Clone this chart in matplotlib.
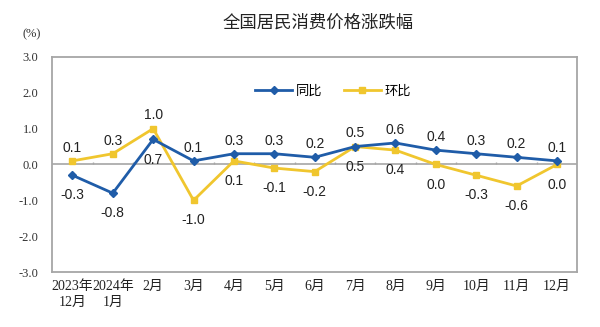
import matplotlib
matplotlib.use('Agg')
import matplotlib.pyplot as plt
import numpy as np

plt.rcParams['font.family'] = ['Liberation Sans', 'Noto Sans CJK SC']

# data
months = ['2023年\n12月', '2024年\n1月', '2月', '3月', '4月', '5月', '6月',
          '7月', '8月', '9月', '10月', '11月', '12月']
yoy = [-0.3, -0.8, 0.7, 0.1, 0.3, 0.3, 0.2, 0.5, 0.6, 0.4, 0.3, 0.2, 0.1]
mom = [0.1, 0.3, 1.0, -1.0, 0.1, -0.1, -0.2, 0.5, 0.4, 0.0, -0.3, -0.6, 0.0]
# label placement: True = above the point
yoy_above = [False, False, False, True, True, True, True, True, True, True, True, True, True]
mom_above = [True, True, True, False, False, False, False, False, False, False, False, False, False]

blue = '#1f5ca8'
yellow = '#f0c62e'
gray = '#a6a6a6'

fig = plt.figure(figsize=(6, 3.27), dpi=100)
ax = fig.add_axes([0.087, 0.168, 0.875, 0.658])

x = np.arange(len(months))
ax.plot(x, yoy, color=blue, lw=2, marker='D', ms=4, label='同比', zorder=3)
ax.plot(x, mom, color=yellow, lw=2, marker='s', ms=4, label='环比', zorder=2)

for xs, vals, flags in [(x, yoy, yoy_above), (x, mom, mom_above)]:
    for xi, v, up in zip(xs, vals, flags):
        off = 9.5 if up else -14.5
        ax.annotate(f'{v:.1f}', (xi, v), xytext=(0, off), textcoords='offset points',
                    ha='center', va='center', fontsize=10, color='#222222')

ax.axhline(0, color=gray, lw=1.2, zorder=1)
ax.vlines(np.arange(len(months) - 1) + 0.5, 0, 0.08, color=gray, lw=1, zorder=1)

ax.set_xlim(-0.5, len(months) - 0.5)
ax.set_ylim(-3, 3)
ax.set_yticks(np.arange(-3, 3.1, 1))
ax.set_yticklabels([f'{t:.1f}' for t in np.arange(-3, 3.1, 1)],
                   family=['Liberation Serif'], fontsize=9, color='#333333')
ax.set_xticks(x)
ax.set_xticklabels(months, family=['Liberation Serif', 'Noto Sans CJK SC'],
                   fontsize=10, color='#222222', linespacing=1.25)
ax.tick_params(axis='both', length=0)
ax.tick_params(axis='x', pad=6)
ax.tick_params(axis='y', pad=10)

for s in ax.spines.values():
    s.set_color(gray)
    s.set_linewidth(1.3)

ax.legend(loc='center', bbox_to_anchor=(0.535, 0.84), ncol=2, frameon=False,
          fontsize=9.5, handlelength=2.8, columnspacing=1.6, handletextpad=0.3)

fig.text(0.53, 0.93, '全国居民消费价格涨跌幅', ha='center', va='center',
         fontsize=12.5, family=['Noto Sans CJK SC'], color='#222222')
fig.text(0.052, 0.895, '(%)', ha='center', va='center', fontsize=9,
         family=['Liberation Serif'], color='#333333')

fig.savefig('out.png', dpi=100)
